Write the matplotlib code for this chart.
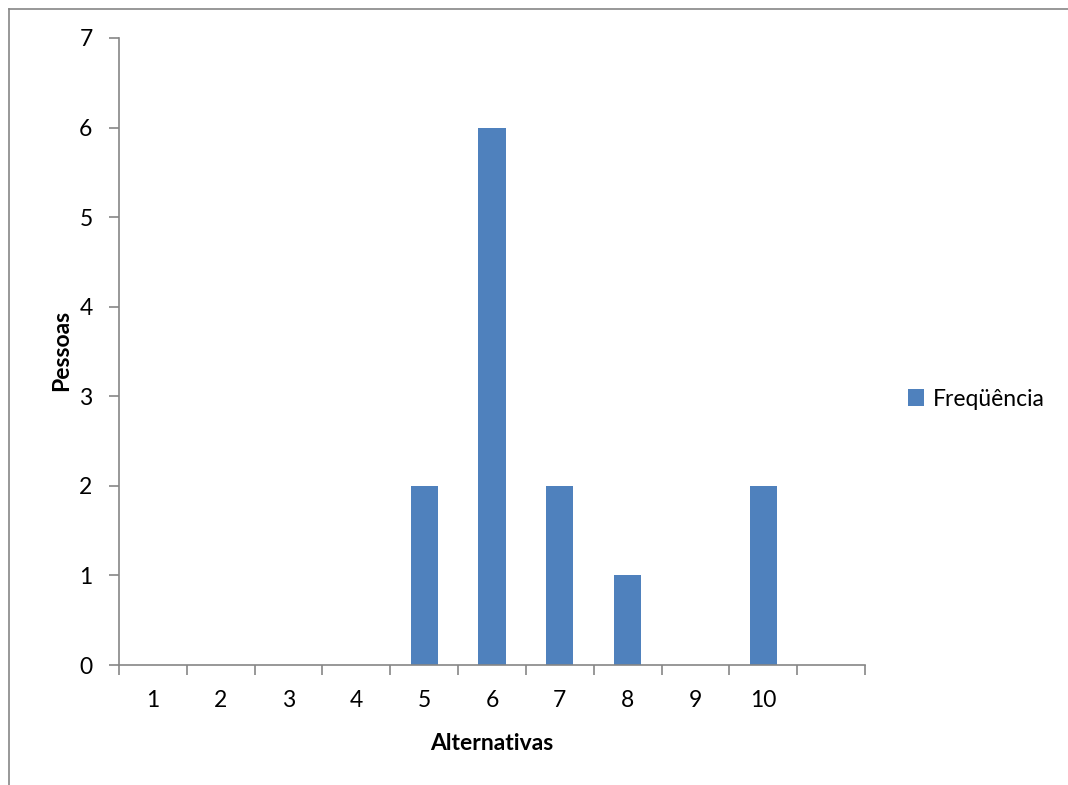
import matplotlib.pyplot as plt
from matplotlib.lines import Line2D

# Dados da pesquisa
alternativas = ["1", "2", "3", "4", "5", "6", "7", "8", "9", "10", ""]
frequencia = [0, 0, 0, 0, 2, 6, 2, 1, 0, 2, 0]

plt.rcParams['font.family'] = ['Lato', 'DejaVu Sans']
cinza = "#868686"
azul = "#4F81BD"
tam = 16.5

fig = plt.figure(figsize=(10.68, 7.85), dpi=100)
ax = fig.add_axes([119 / 1068, 1 - 665 / 785, (865 - 119) / 1068, (665 - 38) / 785])

pos = list(range(1, len(alternativas) + 1))
ax.bar(pos, frequencia, width=0.4, color=azul, label="Freqüência", zorder=2)

ax.set_xlim(0.5, len(alternativas) + 0.5)
ax.set_ylim(0, 7)

# tracinhos entre as categorias, rótulos no centro
ax.set_xticks([p - 0.5 for p in pos] + [pos[-1] + 0.5])
ax.set_xticklabels([])
ax.set_xticks(pos, minor=True)
ax.set_xticklabels(alternativas, minor=True)
ax.tick_params(axis='x', which='major', direction='out', length=7, width=1.2, color=cinza)
ax.tick_params(axis='x', which='minor', length=0, pad=18, labelsize=tam)
ax.set_yticks(range(0, 8))
ax.tick_params(axis='y', direction='out', length=7, width=1.2, color=cinza, pad=12, labelsize=tam)

for s in ["top", "right"]:
    ax.spines[s].set_visible(False)
for s in ["left", "bottom"]:
    ax.spines[s].set_color(cinza)
    ax.spines[s].set_linewidth(1.2)

fig.text(62 / 1068, 1 - 350 / 785, "Pessoas", rotation=90, ha='center', va='center',
         fontsize=tam, fontweight='bold')
fig.text(492 / 1068, 1 - 743 / 785, "Alternativas", ha='center', va='center',
         fontsize=tam, fontweight='bold')

fig.legend(loc='center left', bbox_to_anchor=(887 / 1068, 1 - 399 / 785), frameon=False,
           handlelength=0.7, handleheight=0.7, handletextpad=0.4, fontsize=tam)

# moldura do gráfico (só as bordas de cima e da esquerda aparecem)
x0, y0 = 8.5 / 1068, 1 - 8.5 / 785
fig.add_artist(Line2D([x0, 1.0], [y0, y0], transform=fig.transFigure, color=cinza, linewidth=1.2))
fig.add_artist(Line2D([x0, x0], [0.0, y0], transform=fig.transFigure, color=cinza, linewidth=1.2))

fig.savefig("out.png", dpi=100)
